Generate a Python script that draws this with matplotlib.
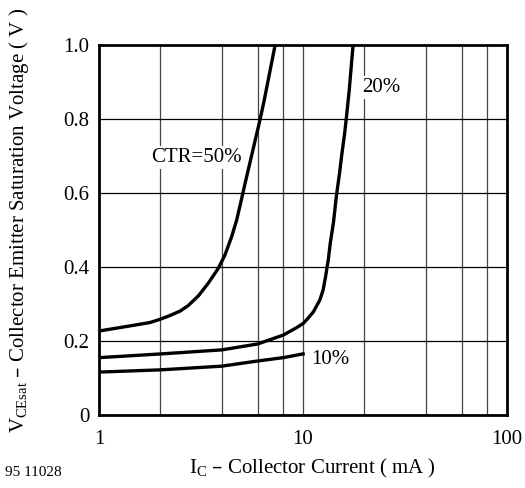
# Collector emitter saturation voltage vs collector current
import matplotlib
matplotlib.use('Agg')
matplotlib.rc('font', **{'family': 'Liberation Serif', 'size': 15})
matplotlib.rc('mathtext', default='regular')
import matplotlib.pyplot as plt
from matplotlib.ticker import FixedLocator, NullLocator

# data
ic_50 = [1, 1.5, 1.78, 2, 2.23, 2.5, 2.74, 3.07, 3.43, 3.84, 4.14, 4.47, 4.73,
         4.97, 5.2, 5.5, 5.82, 6.15, 6.45, 6.75, 7.3]
vce_50 = [0.227, 0.243, 0.25, 0.259, 0.269, 0.281, 0.296, 0.322, 0.356, 0.396, 0.432, 0.482,
          0.527, 0.578, 0.626, 0.683, 0.741, 0.797, 0.85, 0.905, 1.0]

ic_20 = [1, 2, 4, 6, 8.0, 8.63, 9.3, 10.05, 10.6, 11.25, 12.1, 12.55, 12.9, 13.3, 13.6,
         14.1, 14.6, 15.1, 15.5, 16.0, 16.4, 16.85, 17.6]
vce_20 = [0.155, 0.165, 0.176, 0.192, 0.216, 0.226, 0.236, 0.248, 0.262, 0.279, 0.311,
          0.338, 0.374, 0.419, 0.464, 0.52, 0.595, 0.653, 0.705, 0.761, 0.815, 0.878, 1.0]

ic_10 = [1, 2, 4, 6, 8, 10.2]
vce_10 = [0.116, 0.122, 0.132, 0.146, 0.155, 0.166]

x_grid = [2, 4, 6, 8, 10, 20, 40, 60, 80]
y_grid = [0.2, 0.4, 0.6, 0.8]
x_ticks = [1, 10, 100]
x_ticklabels = ['1', '10', '100']
y_ticks = [0, 0.2, 0.4, 0.6, 0.8, 1.0]
y_ticklabels = ['0', '0.2', '0.4', '0.6', '0.8', '1.0']

fig = plt.figure(figsize=(5.25, 4.88), dpi=100)
ax = fig.add_axes([0.1886, 0.1496, 0.7771, 0.7582])

for xv in x_grid:
    ax.axvline(xv, color='#444444', lw=0.9, zorder=1)
for yv in y_grid:
    ax.axhline(yv, color='black', lw=0.9, zorder=1)

for xs, ys in [(ic_50, vce_50), (ic_20, vce_20), (ic_10, vce_10)]:
    ax.plot(xs, ys, color='black', lw=2.4, solid_capstyle='butt',
            solid_joinstyle='round', zorder=3)

ax.set_xscale('log')
ax.set_xlim(1, 100)
ax.set_ylim(0, 1.0)
ax.xaxis.set_major_locator(FixedLocator(x_ticks))
ax.xaxis.set_minor_locator(NullLocator())
ax.set_xticklabels(x_ticklabels)
ax.set_yticks(y_ticks)
ax.set_yticklabels(y_ticklabels)
ax.tick_params(axis='both', length=0, labelsize=15)
ax.tick_params(axis='x', pad=11)
ax.tick_params(axis='y', pad=7)
for s in ax.spines.values():
    s.set_linewidth(2.0)
    s.set_zorder(4)

box = dict(facecolor='white', edgecolor='none', pad=1.5)
ax.text(1.8, 0.695, 'CTR=50%', fontsize=15, va='center', ha='left', bbox=box, zorder=2)
ax.text(19.6, 0.886, '20%', fontsize=15, va='center', ha='left', bbox=box, zorder=2)
ax.text(11.0, 0.149, '10%', fontsize=15, va='center', ha='left', bbox=box, zorder=2)

fig.text(0.5943, 0.039, '$I_C$ – Collector Current ( mA )', fontsize=15, ha='center', va='center')
fig.text(0.036, 0.549, '$V_{CEsat}$ – Collector Emitter Saturation Voltage ( V )',
         fontsize=15, ha='center', va='center', rotation=90)
fig.text(0.01, 0.032, '95 11028', fontsize=11, ha='left', va='center')

plt.savefig('out.png', dpi=100)
